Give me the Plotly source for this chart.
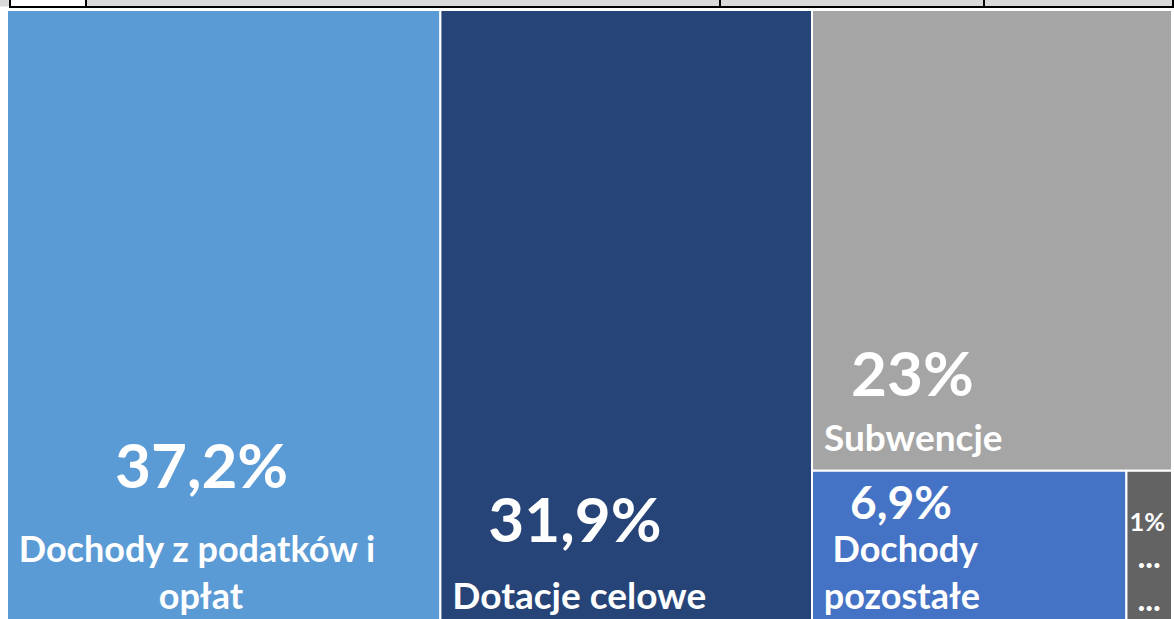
import plotly.graph_objects as go

# ---- data ----
categories = ["Dochody z podatków i opłat", "Dotacje celowe", "Subwencje",
              "Dochody pozostałe", "Inne"]
shares = [37.2, 31.9, 23.0, 6.9, 1.0]
display_lines = [["Dochody z podatków i", "opłat"], ["Dotacje celowe"], ["Subwencje"],
                 ["Dochody", "pozostałe"], ["...", "..."]]
colors = ["#5B9BD5", "#264478", "#A5A5A5", "#4472C4", "#636363"]

# ---- text styling (per cell) ----
base_size = [36, 37, 37, 36, 35]        # label font size
pct_size = [62, 62, 62, 46, 27]         # percentage font size
pct_lift = [27, 19, 7, -4, -6]          # extra gap above the label (px)
pct_indent = [12, 5, 4, 4, 0]           # leading nbsp (label-size units)
line_indent = [[1, 17], [1], [1], [2, 1], [1, 1]]
bottom_gap = 9                          # extra space under the last line (px)

NB = "\u00a0"


def fmt_pct(v):
    return f"{v:g}".replace(".", ",") + "%"


texts = []
for i, v in enumerate(shares):
    first = NB * pct_indent[i] + (
        f"<span style='font-size:{pct_size[i]}px;baseline-shift:{pct_lift[i]}px'>"
        f"{fmt_pct(v)}</span>")
    rest = [NB * line_indent[i][k] + ln for k, ln in enumerate(display_lines[i])]
    rest[-1] += f"<span style='baseline-shift:-{bottom_gap}px'>{NB}</span>"
    texts.append("<br>".join([first] + rest))

fig = go.Figure(go.Treemap(
    labels=categories,
    parents=[""] * len(categories),
    values=shares,
    text=texts,
    textinfo="text",
    textposition="bottom left",
    sort=True,
    tiling=dict(packing="squarify", pad=0),
    marker=dict(colors=colors, line=dict(color="white", width=2),
                pad=dict(t=0, l=0, r=0, b=0)),
    textfont=dict(family="Lato", color="white", size=base_size, weight="bold"),
    pathbar=dict(visible=False),
    hoverinfo="label+value",
))

W, H = 1174, 629
ML, MR, MT, MB = 7, 2, 10, 0
PW, PH = W - ML - MR, H - MT - MB


def px_x(x):
    return (x - ML) / PW


def px_y(y):
    return 1 - (y - MT) / PH


shapes = [
    dict(type="rect", xref="paper", yref="paper", x0=px_x(0), x1=px_x(W),
         y0=px_y(0), y1=px_y(6.5), fillcolor="#D9D9D9", line=dict(width=0)),
    dict(type="rect", xref="paper", yref="paper", x0=px_x(10), x1=px_x(86),
         y0=px_y(0), y1=px_y(6.5), fillcolor="white", line=dict(width=0)),
    dict(type="line", xref="paper", yref="paper", x0=px_x(9), x1=px_x(W),
         y0=px_y(7), y1=px_y(7), line=dict(color="black", width=2)),
]
for gx in [10, 86, 720, 984, 1173]:
    shapes.append(dict(type="line", xref="paper", yref="paper", x0=px_x(gx), x1=px_x(gx),
                       y0=px_y(0), y1=px_y(7), line=dict(color="black", width=2)))

fig.update_layout(
    width=W, height=H,
    margin=dict(l=ML, r=MR, t=MT, b=MB, pad=0),
    paper_bgcolor="white",
    showlegend=False,
    shapes=shapes,
)

fig.write_html(
    "out.html",
    config={"displayModeBar": False},
    post_script="document.documentElement.style.overflow='hidden';"
                "document.body.style.margin='0';document.body.style.overflow='hidden';",
)
